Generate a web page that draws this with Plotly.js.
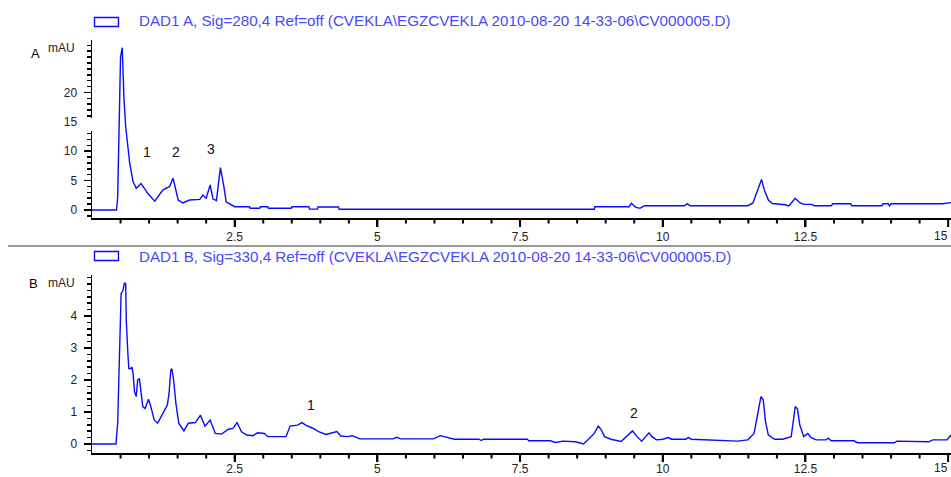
<!DOCTYPE html>
<html>
<head>
<meta charset="utf-8">
<script src="https://cdn.plot.ly/plotly-3.0.1.min.js"></script>
<style>html,body{margin:0;padding:0;background:#fff;}#chart{width:951px;height:477px;}</style>
</head>
<body>
<div id="chart"></div>
<script>
// ---- Data ----
const timeA = [0, 0.43, 0.45, 0.47, 0.50, 0.53, 0.56, 0.59, 0.66, 0.72, 0.775, 0.86, 0.98, 1.10, 1.24, 1.36, 1.42, 1.51, 1.59, 1.71, 1.89, 1.94, 2.00, 2.07, 2.12, 2.18, 2.25, 2.31, 2.35, 2.50, 2.76, 2.77, 2.94, 2.95, 3.08, 3.09, 3.49, 3.50, 3.80, 3.81, 3.95, 3.96, 4.32, 4.33, 8.80, 8.81, 9.41, 9.45, 9.52, 9.60, 9.68, 10.38, 10.43, 10.48, 11.49, 11.58, 11.67, 11.73, 11.78, 11.85, 11.92, 12.14, 12.21, 12.32, 12.40, 12.47, 12.61, 12.65, 12.95, 12.98, 13.29, 13.31, 13.84, 13.86, 13.95, 13.97, 14.00, 14.90, 15.05];
const sigA  = [0, 0, 2.2, 12.4, 26.0, 27.6, 19.0, 14.2, 8.0, 4.8, 3.7, 4.5, 2.8, 1.5, 3.4, 4.0, 5.4, 1.7, 1.2, 1.7, 1.8, 2.55, 2.0, 4.25, 1.9, 1.6, 7.2, 4.0, 1.4, 0.56, 0.56, 0.3, 0.3, 0.56, 0.56, 0.3, 0.3, 0.56, 0.56, 0.15, 0.15, 0.5, 0.5, 0.12, 0.12, 0.56, 0.56, 1.13, 0.5, 0.28, 0.73, 0.73, 1.07, 0.73, 0.73, 1.2, 3.4, 5.2, 3.4, 1.7, 1.1, 0.9, 0.68, 2.0, 1.25, 0.96, 0.96, 0.73, 0.73, 1.07, 1.07, 0.73, 0.73, 1.07, 1.07, 0.73, 1.07, 1.07, 1.25];

const timeB = [0, 0.42, 0.45, 0.48, 0.51, 0.54, 0.57, 0.59, 0.60, 0.63, 0.645, 0.68, 0.70, 0.72, 0.745, 0.775, 0.80, 0.83, 0.86, 0.89, 0.93, 0.99, 1.03, 1.09, 1.15, 1.21, 1.27, 1.32, 1.35, 1.38, 1.40, 1.43, 1.47, 1.52, 1.61, 1.69, 1.81, 1.90, 1.98, 2.07, 2.16, 2.27, 2.39, 2.47, 2.54, 2.62, 2.71, 2.82, 2.90, 3.02, 3.08, 3.40, 3.47, 3.60, 3.68, 3.75, 3.86, 3.98, 4.10, 4.29, 4.36, 4.47, 4.56, 4.60, 4.69, 5.27, 5.34, 5.41, 5.98, 6.10, 6.21, 6.35, 6.78, 6.82, 6.86, 7.63, 7.65, 8.03, 8.12, 8.25, 8.47, 8.61, 8.69, 8.80, 8.87, 8.92, 8.98, 9.09, 9.27, 9.41, 9.47, 9.55, 9.63, 9.70, 9.76, 9.81, 9.89, 10.00, 10.10, 10.15, 10.40, 10.45, 10.50, 11.31, 11.49, 11.60, 11.67, 11.72, 11.76, 11.80, 11.85, 11.96, 12.10, 12.25, 12.29, 12.32, 12.36, 12.40, 12.47, 12.54, 12.60, 12.69, 12.86, 12.90, 12.95, 13.35, 13.41, 14.06, 14.10, 14.66, 14.73, 14.98, 15.05];
const sigB  = [0, 0, 0.65, 2.6, 4.7, 4.78, 5.04, 5.0, 3.87, 2.78, 2.36, 2.36, 2.4, 2.2, 1.63, 1.48, 2.0, 2.05, 1.5, 1.17, 1.11, 1.4, 1.17, 0.75, 0.65, 0.85, 1.06, 1.22, 1.58, 2.31, 2.35, 2.0, 1.27, 0.65, 0.41, 0.65, 0.67, 0.9, 0.56, 0.75, 0.33, 0.31, 0.46, 0.49, 0.67, 0.38, 0.28, 0.26, 0.35, 0.33, 0.23, 0.23, 0.56, 0.59, 0.67, 0.58, 0.5, 0.38, 0.30, 0.39, 0.25, 0.23, 0.26, 0.23, 0.16, 0.16, 0.21, 0.16, 0.16, 0.26, 0.21, 0.15, 0.15, 0.11, 0.15, 0.15, 0.10, 0.10, 0.05, 0.09, 0.07, 0.0, 0.13, 0.33, 0.56, 0.45, 0.23, 0.15, 0.08, 0.33, 0.41, 0.23, 0.09, 0.23, 0.35, 0.23, 0.13, 0.15, 0.2, 0.15, 0.15, 0.2, 0.15, 0.09, 0.13, 0.33, 0.96, 1.48, 1.38, 0.70, 0.28, 0.15, 0.15, 0.23, 0.75, 1.17, 1.1, 0.6, 0.23, 0.33, 0.20, 0.13, 0.13, 0.18, 0.1, 0.1, 0.04, 0.04, 0.09, 0.07, 0.13, 0.13, 0.28];

const xTicks = [2.5, 5, 7.5, 10, 12.5];          // labelled by the axis
const xEdgeTick = 15;                             // last label, kept inside the page
const xMinorTicks = [0.5, 1, 1.5, 2, 3, 3.5, 4, 4.5, 5.5, 6, 6.5, 7, 8, 8.5, 9, 9.5, 10.5, 11, 11.5, 12, 13, 13.5, 14, 14.5];
const yTicksA = [0, 5, 10, 15, 20];
const yTicksB = [0, 1, 2, 3, 4];

const legendA = "DAD1 A, Sig=280,4 Ref=off (CVEKLA\\EGZCVEKLA 2010-08-20 14-33-06\\CV000005.D)";
const legendB = "DAD1 B, Sig=330,4 Ref=off (CVEKLA\\EGZCVEKLA 2010-08-20 14-33-06\\CV000005.D)";
const peakLabelsA = ["1", "2", "3"];
const peakXA = [0.97, 1.48, 2.08];
const peakYA = [9.9, 9.9, 10.4];
const peakLabelsB = ["1", "2"];
const peakXB = [3.83, 9.5];
const peakYB = [1.22, 0.97];

// ---- Layout helpers ----
const W = 951, H = 477;
const px = v => v / W;
const py = v => 1 - v / H;
const FONT = "Liberation Sans, Arial, sans-serif";
const LINE_BLUE = "#0a0aff";
const LEG_BLUE = "#4848ff";
const X_DOMAIN = [px(92), 1];
const X_RANGE = [0, 15.05];

function xAxis(anchor, standoff) {
  const ax = {
    anchor: anchor, domain: X_DOMAIN, range: X_RANGE,
    showgrid: false, zeroline: false, showline: true, linecolor: "#000", linewidth: 1.5,
    ticks: "outside", ticklen: 7, tickwidth: 2, tickcolor: "#000",
    tickmode: "array", tickvals: xTicks,
    tickfont: {family: FONT, size: 12, color: "#222"},
    fixedrange: true
  };
  if (standoff) ax.ticklabelstandoff = standoff;
  return ax;
}
function yAxis(anchor, domain, range, vals, mdt) {
  return {
    anchor: anchor, domain: domain, range: range,
    showgrid: false, zeroline: false, showline: true, linecolor: "#000", linewidth: 1.5,
    ticks: "outside", ticklen: 7, tickwidth: 1.5, tickcolor: "#000",
    tickmode: "array", tickvals: vals, ticklabelstandoff: 4,
    tickfont: {family: FONT, size: 12, color: "#222"},
    minor: {dtick: mdt, ticks: "outside", ticklen: 4, tickwidth: 1.5, tickcolor: "#000"},
    fixedrange: true
  };
}
// thin strip axis under each x axis line, used only to hold the x tick marks
function stripAxis(anchor, top) {
  return {anchor: anchor, domain: [py(top + 8.5), py(top)], range: [0, 1], visible: false, fixedrange: true};
}
function tickTrace(xref, yref, major) {
  const xs = [], ys = [];
  (major ? xTicks.concat([xEdgeTick]) : xMinorTicks).forEach(v => { xs.push(v, v, null); ys.push(1, major ? 0 : 0.4, null); });
  return {x: xs, y: ys, xaxis: xref, yaxis: yref, type: "scatter", mode: "lines", cliponaxis: false,
          line: {color: "#000", width: 2}, showlegend: false, hoverinfo: "skip", connectgaps: false};
}

const traces = [
  {x: timeA, y: sigA, xaxis: "x", yaxis: "y", type: "scatter", mode: "lines",
   line: {color: LINE_BLUE, width: 1.4}, showlegend: false, hoverinfo: "skip"},
  {x: timeB, y: sigB, xaxis: "x2", yaxis: "y2", type: "scatter", mode: "lines",
   line: {color: LINE_BLUE, width: 1.4}, showlegend: false, hoverinfo: "skip"},
  tickTrace("x", "y3", true), tickTrace("x", "y3", false),
  tickTrace("x2", "y4", true), tickTrace("x2", "y4", false)
];

const annotations = [
  {xref: "paper", yref: "paper", x: px(137), y: py(21), xanchor: "left", yanchor: "middle", text: legendA, showarrow: false, font: {family: FONT, size: 15.2, color: LEG_BLUE}},
  {xref: "paper", yref: "paper", x: px(137), y: py(256), xanchor: "left", yanchor: "middle", text: legendB, showarrow: false, font: {family: FONT, size: 15.2, color: LEG_BLUE}},
  {xref: "paper", yref: "paper", x: px(35), y: py(53), xanchor: "center", yanchor: "middle", text: "A", showarrow: false, font: {family: FONT, size: 13, color: "#000"}},
  {xref: "paper", yref: "paper", x: px(77), y: py(48), xanchor: "right", yanchor: "middle", text: "mAU", showarrow: false, font: {family: FONT, size: 12, color: "#222"}},
  {xref: "paper", yref: "paper", x: px(33), y: py(283), xanchor: "center", yanchor: "middle", text: "B", showarrow: false, font: {family: FONT, size: 13, color: "#000"}},
  {xref: "paper", yref: "paper", x: px(77), y: py(283), xanchor: "right", yanchor: "middle", text: "mAU", showarrow: false, font: {family: FONT, size: 12, color: "#222"}},
  {xref: "paper", yref: "paper", x: 1, y: py(236), xanchor: "right", yanchor: "middle", xshift: -1, text: String(xEdgeTick), showarrow: false, font: {family: FONT, size: 12, color: "#222"}},
  {xref: "paper", yref: "paper", x: 1, y: py(468), xanchor: "right", yanchor: "middle", xshift: -1, text: String(xEdgeTick), showarrow: false, font: {family: FONT, size: 12, color: "#222"}}
];
peakLabelsA.forEach((t, i) => annotations.push({xref: "x", yref: "y", x: peakXA[i], y: peakYA[i], text: t, showarrow: false, font: {family: FONT, size: 14, color: "#111"}}));
peakLabelsB.forEach((t, i) => annotations.push({xref: "x2", yref: "y2", x: peakXB[i], y: peakYB[i], text: t, showarrow: false, font: {family: FONT, size: 14, color: "#111"}}));

const shapes = [
  {type: "line", xref: "paper", yref: "paper", x0: px(8), x1: 1, y0: py(246), y1: py(246), line: {color: "#333", width: 1.2}},
  {type: "rect", xref: "paper", yref: "paper", x0: px(94.5), x1: px(118.5), y0: py(17.5), y1: py(26.5), line: {color: LINE_BLUE, width: 1.4}, fillcolor: "rgba(0,0,0,0)"},
  {type: "rect", xref: "paper", yref: "paper", x0: px(94.5), x1: px(118.5), y0: py(251.5), y1: py(260.5), line: {color: LINE_BLUE, width: 1.4}, fillcolor: "rgba(0,0,0,0)"},
  {type: "rect", xref: "paper", yref: "paper", layer: "above", x0: px(82), x1: px(93.5), y0: py(131), y1: py(118), line: {width: 0}, fillcolor: "#fff"}
];

const layout = {
  width: W, height: H,
  margin: {l: 0, r: 0, t: 0, b: 0},
  paper_bgcolor: "#fff", plot_bgcolor: "rgba(0,0,0,0)",
  showlegend: false,
  xaxis: xAxis("y", 0),
  yaxis: yAxis("x", [py(218), py(40)], [-1.36, 28.91], yTicksA, 1),
  xaxis2: xAxis("y2", -3),
  yaxis2: yAxis("x2", [py(453), py(274.7)], [-0.281, 5.29], yTicksB, 0.2),
  yaxis3: stripAxis("x", 218.5),
  yaxis4: stripAxis("x2", 453.5),
  annotations: annotations,
  shapes: shapes
};

Plotly.newPlot("chart", traces, layout, {staticPlot: true, displayModeBar: false});
</script>
</body>
</html>
